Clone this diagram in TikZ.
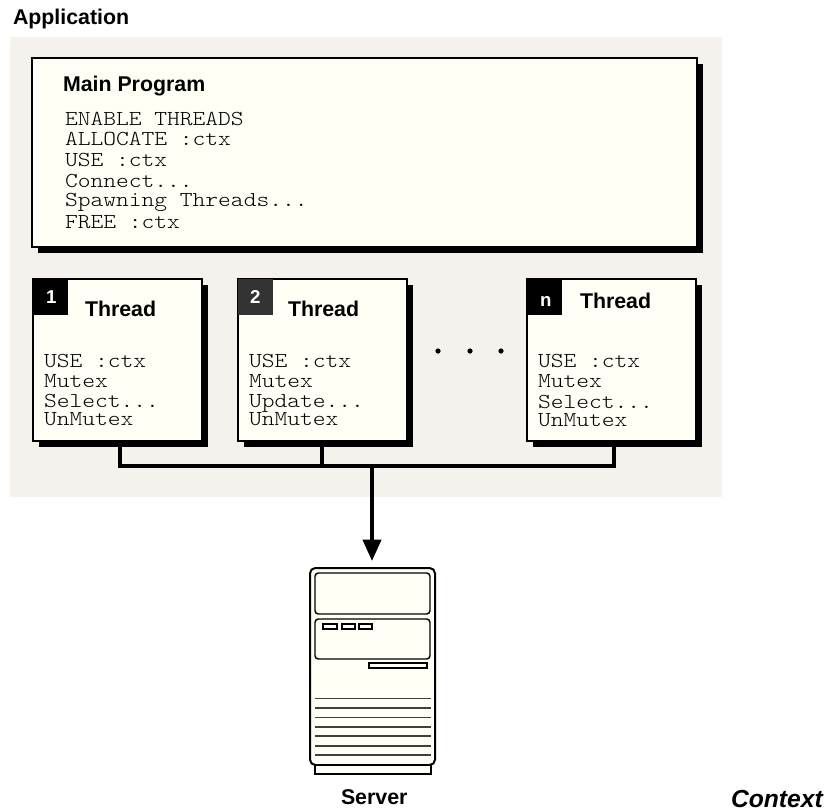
\documentclass[tikz,border=0pt]{standalone}
\usepackage{fontspec}
\setmainfont{Liberation Sans}
\setmonofont[FakeStretch=1.14]{Latin Modern Mono Light}
\usepackage{xcolor}
\usetikzlibrary{arrows.meta,shadows}
\definecolor{appback}{HTML}{F5F2ED}
\definecolor{boxfill}{HTML}{FFFFF5}
\definecolor{tabtwo}{HTML}{333333}
\tikzset{
  head/.style={anchor=base west,inner sep=0pt,outer sep=0pt,font=\fontsize{16}{16}\selectfont\bfseries},
  code/.style={anchor=base west,inner sep=0pt,outer sep=0pt,font=\fontsize{16}{16}\selectfont\ttfamily},
  panel/.style={draw=black,line width=1.1pt,fill=boxfill,anchor=north west,inner sep=0pt,outer sep=0pt,
    drop shadow={shadow xshift=4.2pt,shadow yshift=-4.2pt,fill=black,opacity=1}},
  threadbox/.style={panel,minimum width=126.75pt,minimum height=121.5pt},
  tab/.style={fill=#1,anchor=north west,inner sep=0pt,outer sep=0pt,minimum width=26.25pt,minimum height=27pt},
  tabnum/.style={anchor=base west,inner sep=0pt,outer sep=0pt,text=white,font=\fontsize{14}{14}\selectfont\bfseries},
  bus/.style={line width=2.9pt,line join=miter},
  rack/.style={draw=black,line width=1.1pt,fill=boxfill},
  slat/.style={draw=black!75,line width=1.2pt},
}
\begin{document}
\begin{tikzpicture}[x=0.75pt,y=-0.75pt]
\useasboundingbox (0,0) rectangle (830,812);
%\draw[help lines,step=50](0,0)grid(830,812);
\fill[appback] (10,37) rectangle (722,497);
\node[head] (application) at (13,25) {Application};

% main program
\node[panel,minimum width=498.75pt,minimum height=141.75pt] (mainbox) at (32,58) {};
\node[head] (maintitle) at (63,92) {Main Program};
\node[code] (mainA) at (65,126) {ENABLE THREADS};
\node[code] (mainB) at (65,146) {ALLOCATE :ctx};
\node[code] (mainC) at (65,167) {USE :ctx};
\node[code] (mainD) at (65,188) {Connect...};
\node[code] (mainE) at (65,207) {Spawning Threads...};
\node[code] (mainF) at (65,229) {FREE :ctx};

% bus goes in first, boxes sit on top of it
\coordinate (busA) at (120,466);
\coordinate (busB) at (322,466);
\coordinate (busN) at (614,466);
\coordinate (busS) at (372,466);

% threads
\node[threadbox] (threadA) at (33,279) {};
\node[tab=black] (tabA) at (33,279) {};
\node[tabnum] (numA) at (46,304) {1};
\node[head] (titleA) at (85,317) {Thread};
\node[code] (codeAa) at (44,367) {USE :ctx};
\node[code] (codeAb) at (44,387) {Mutex};
\node[code] (codeAc) at (44,407) {Select...};
\node[code] (codeAd) at (44,425) {UnMutex};

\node[threadbox] (threadB) at (238,279) {};
\node[tab=tabtwo] (tabB) at (238,279) {};
\node[tabnum] (numB) at (250,304) {2};
\node[head] (titleB) at (288,317) {Thread};
\node[code] (codeBa) at (249,367) {USE :ctx};
\node[code] (codeBb) at (249,387) {Mutex};
\node[code] (codeBc) at (249,407) {Update...};
\node[code] (codeBd) at (249,425) {UnMutex};

\node[threadbox] (threadN) at (527,279) {};
\node[tab=black] (tabN) at (527,279) {};
\node[tabnum] (numN) at (540,306) {n};
\node[head] (titleN) at (580,309) {Thread};
\node[code] (codeNa) at (538,367) {USE :ctx};
\node[code] (codeNb) at (538,387) {Mutex};
\node[code] (codeNc) at (538,408) {Select...};
\node[code] (codeNd) at (538,426) {UnMutex};

\fill (438,351) circle (2.6) (470,351) circle (2.6) (501,351) circle (2.6);

% server
\node[draw=black,line width=1.5pt,fill=boxfill,rounded corners=4pt,anchor=north west,inner sep=0pt,outer sep=0pt,minimum width=93.75pt,minimum height=147.75pt] (server) at (310,568) {};
\draw[rack,line width=1.5pt] (315,765) rectangle (431,774);
\draw[rack,rounded corners=2.5pt] (315,573) rectangle (430,614);
\draw[rack,rounded corners=2.5pt] (315,619) rectangle (430,659);
\draw[rack] (323,624) rectangle (337,629);
\draw[rack] (342,624) rectangle (355,629);
\draw[rack] (359,624) rectangle (372,629);
\draw[rack] (369,663) rectangle (427,668);
\foreach \yy in {698.3,707.7,717.3,726.7,736,745.7,755}
  \draw[slat] (315,\yy)--(431,\yy);

\draw[bus] (threadA.south -| busA) |- (busN) -- (threadN.south -| busN);
\draw[bus] (threadB.south -| busB) -- (busB);
\draw[bus,-{Triangle[length=16pt,width=13.5pt]},shorten >=5.25pt] (busS) -- (busS |- server.north);

\node[head] (serverlabel) at (341,804) {Server};
\node[head,font=\fontsize{18.5}{18.5}\selectfont\bfseries\itshape] (context) at (731,807) {Context};
\end{tikzpicture}
\end{document}
